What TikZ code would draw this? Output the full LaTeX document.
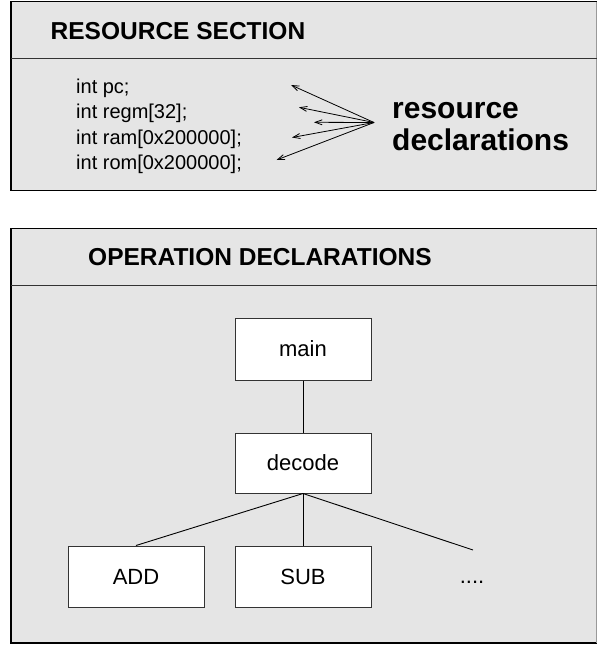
\documentclass[tikz,border=0pt]{standalone}
\usepackage{fontspec}
\setmainfont{Liberation Sans}
\usetikzlibrary{arrows.meta}
\definecolor{panelgrey}{HTML}{E5E5E5}
\definecolor{edgegrey}{HTML}{333333}
\definecolor{rimgrey}{HTML}{999999}
\tikzset{
  panel/.style={draw=black, fill=panelgrey, line width=1.3pt},
  rim/.style={draw=rimgrey, line width=1.3pt},
  divider/.style={draw=edgegrey, line width=1.2pt},
  heading/.style={anchor=base west, inner sep=0pt, font=\bfseries\fontsize{24.5}{29}\selectfont},
  codeline/.style={anchor=base west, inner sep=0pt, font=\fontsize{20}{24}\selectfont},
  bigword/.style={anchor=base west, inner sep=0pt, font=\bfseries\fontsize{30}{36}\selectfont},
  opbox/.style={draw=edgegrey, fill=white, line width=1pt, minimum width=136pt, inner sep=0pt, font=\fontsize{22}{26}\selectfont},
  pointer/.style={draw=black, line width=0.8pt, -{Straight Barb[length=7pt,width=5pt]}},
  branch/.style={draw=black, line width=0.9pt}
}
\begin{document}
\begin{tikzpicture}[x=1pt,y=-1pt]
  \useasboundingbox (0,0) rectangle (597,645);

  % resource section panel
  \path[panel] (11,1.5) rectangle (596.5,190.5);
  \draw[rim] (596.5,1.5) -- (596.5,190.5);
  \draw[divider] (11,58.5) -- (596.5,58.5);
  \node[heading] (restitle) at (50.5,39.3) {RESOURCE SECTION};

  \node[codeline] (l1) at (76,93)    {int pc;};
  \node[codeline] (l2) at (76,118.7) {int regm[32];};
  \node[codeline] (l3) at (76,144)   {int ram[0x200000];};
  \node[codeline] (l4) at (76,169.3) {int rom[0x200000];};

  \node[bigword] (w1) at (392,118) {resource};
  \node[bigword] (w2) at (392,150) {declarations};

  \coordinate (hub) at (374,122.5);
  \coordinate (t1) at (291,85);
  \coordinate (t2) at (299,107.3);
  \coordinate (t3) at (314,122.3);
  \coordinate (t4) at (292,137.5);
  \coordinate (t5) at (276.5,160);
  \foreach \t in {t1,t2,t3,t4,t5} \draw[pointer] (hub) -- (\t);

  % operation declarations panel
  \path[panel] (11,228.5) rectangle (596.5,643);
  \draw[rim] (596.5,228.5) -- (596.5,643);
  \draw[divider] (11,285.5) -- (596.5,285.5);
  \node[heading] (optitle) at (88,265) {OPERATION DECLARATIONS};

  \node[opbox, minimum height=62pt] (main)   at (303,349)   {main};
  \node[opbox, minimum height=60pt] (decode) at (303,463)   {decode};
  \node[opbox, minimum height=61pt] (add)    at (136,576.5) {ADD};
  \node[opbox, minimum height=61pt] (sub)    at (303,576.5) {SUB};
  \node[anchor=base, inner sep=0pt, font=\fontsize{22}{26}\selectfont] (more) at (472,583) {....};
  \coordinate (moreend) at (473,550);

  \draw[branch] (main.south) -- (decode.north);
  \draw[branch] (decode.south) -- (add.north);
  \draw[branch] (decode.south) -- (sub.north);
  \draw[branch] (decode.south) -- (moreend);
\end{tikzpicture}
\end{document}
